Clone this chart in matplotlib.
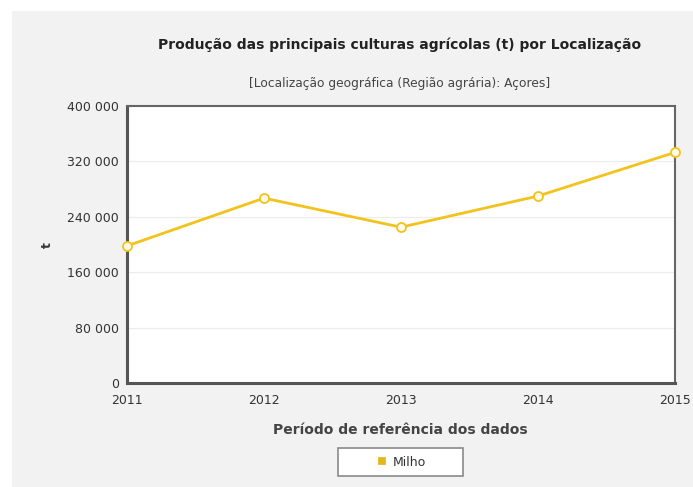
import matplotlib.pyplot as plt
from matplotlib.patches import Rectangle
from matplotlib.ticker import FuncFormatter

plt.rcParams['font.family'] = ['DejaVu Sans']

years = [2011, 2012, 2013, 2014, 2015]
milho = [198000, 267000, 225000, 270000, 333000]
yticks = [0, 80000, 160000, 240000, 320000, 400000]

W, H = 693, 487
fig = plt.figure(figsize=(W / 100, H / 100), dpi=100)
fig.patch.set_facecolor('white')
# gray panel behind the chart
fig.patches.append(Rectangle((12 / W, 0), 1, 1 - 11 / H, transform=fig.transFigure,
                             facecolor='#f2f2f2', edgecolor='none', zorder=-10))

ax = fig.add_axes([127 / W, 1 - 383 / H, (675 - 127) / W, (383 - 106) / H])
ax.set_facecolor('white')

ax.plot(years, milho, color='#f2c31d', lw=2.0, marker='o', ms=6.5,
        mfc='#fffbe8', mec='#f2c31d', mew=1.3, clip_on=False, zorder=5, label='Milho')

ax.set_xlim(2011, 2015)
ax.set_ylim(0, 400000)
ax.set_xticks(years)
ax.set_yticks(yticks)
ax.yaxis.set_major_formatter(FuncFormatter(lambda v, p: f"{int(v):,}".replace(',', ' ')))
ax.grid(axis='y', color='#ececec', lw=0.8)
ax.set_axisbelow(True)
ax.tick_params(length=0, labelsize=9, colors='#333333')
ax.tick_params(axis='y', pad=6)
ax.tick_params(axis='x', pad=8)
for s in ['left', 'bottom']:
    ax.spines[s].set_color('#555555')
    ax.spines[s].set_linewidth(2.2)
for s in ['top', 'right']:
    ax.spines[s].set_color('#666666')
    ax.spines[s].set_linewidth(1.5)

fig.text(400 / W, 1 - 45 / H, 'Produção das principais culturas agrícolas (t) por Localização',
         ha='center', va='center', fontsize=10, fontweight='bold', color='#222222')
fig.text(400 / W, 1 - 84 / H, '[Localização geográfica (Região agrária): Açores]',
         ha='center', va='center', fontsize=8.8, color='#444444')
fig.text(47 / W, 1 - 245 / H, 't', ha='center', va='center', rotation=90,
         fontsize=9, fontweight='bold', color='#333333')
fig.text(400 / W, 1 - 430 / H, 'Período de referência dos dados',
         ha='center', va='center', fontsize=10, fontweight='bold', color='#444444')

# legend box
fig.patches.append(Rectangle((338 / W, 1 - 476 / H), 125 / W, 28 / H, transform=fig.transFigure,
                             facecolor='white', edgecolor='#8a8a8a', lw=1.2, zorder=1))
leg = fig.legend(loc='center', bbox_to_anchor=(402 / W, 1 - 462 / H), frameon=False,
                 fontsize=9, handlelength=0.5, handletextpad=0.6)
for h in leg.legend_handles:
    h.set_linestyle('none')
    h.set_marker('s')
    h.set_markersize(4.5)
    h.set_markerfacecolor('#e2b820')
    h.set_markeredgecolor('#e2b820')
for t in leg.get_texts():
    t.set_color('#333333')

fig.savefig('out.png', dpi=100, facecolor=fig.get_facecolor())
